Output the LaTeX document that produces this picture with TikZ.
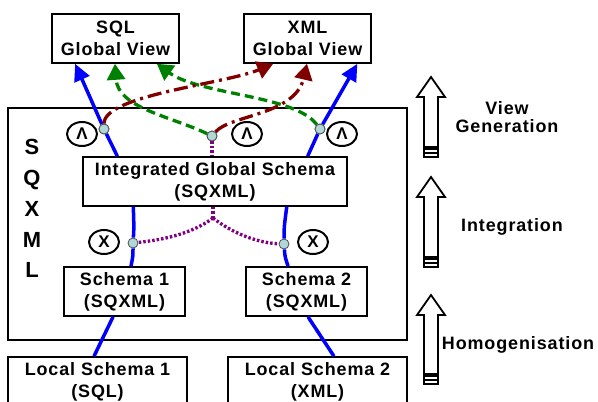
\documentclass[tikz,border=0pt]{standalone}
\usepackage{fontspec}
\setmainfont{Liberation Sans}[LetterSpace=5]
\usetikzlibrary{arrows.meta,shapes.geometric,positioning}
\definecolor{flowblue}{RGB}{0,0,255}
\definecolor{flowgreen}{RGB}{0,128,0}
\definecolor{flowred}{RGB}{128,0,0}
\definecolor{flowpurple}{RGB}{128,0,128}
\definecolor{jointfill}{RGB}{176,216,216}
\newcommand{\boxfont}{\fontsize{18}{22}\selectfont\bfseries}

\begin{document}
\begin{tikzpicture}[x=1bp,y=-1bp,
    box/.style={draw,line width=1.6bp,fill=white,align=center,inner sep=0pt,
      minimum height=49bp,font=\boxfont},
    opnode/.style={draw,ellipse,line width=2bp,minimum width=30bp,
      minimum height=24bp,inner sep=0pt,font=\fontsize{17}{17}\selectfont\bfseries},
    joint/.style={circle,draw=black!70,fill=jointfill,line width=0.8bp,
      minimum size=10bp,inner sep=0pt},
    mapflow/.style={flowblue,line width=3.5bp},
    sqlflow/.style={flowgreen,line width=3.3bp,dash pattern=on 9bp off 5bp},
    xmlflow/.style={flowred,line width=3.3bp,dash pattern=on 14bp off 5bp on 3bp off 5bp},
    mergeflow/.style={flowpurple,line width=3.3bp,dash pattern=on 2.5bp off 2bp},
    phase/.style={align=center,font=\fontsize{18}{18}\selectfont\bfseries}]
  \useasboundingbox (0,0) rectangle (598,401);
  \clip (0,0) rectangle (598,401);

  % SQXML frame
  \node[draw,line width=2bp,minimum width=399bp,minimum height=232bp] (frame) at (207.5,224) {};
  \node[align=center,font=\fontsize{22}{31}\selectfont\bfseries] (sqxmlname) at (32,208.5) {S\\Q\\X\\M\\L};

  % schema boxes
  \node[box,minimum width=127bp] (sqlv) at (115.5,38.5) {SQL\\Global View};
  \node[box,minimum width=127bp] (xmlv) at (307.5,38.5) {XML\\Global View};
  \node[box,minimum width=264bp] (igs) at (215,181.5) {Integrated Global Schema\\(SQXML)};
  \node[box,minimum width=121bp] (s1) at (124.5,291.5) {Schema 1\\(SQXML)};
  \node[box,minimum width=121bp] (s2) at (306.5,291.5) {Schema 2\\(SQXML)};
  \node[box,minimum width=179bp] (ls1) at (97.5,381.5) {Local Schema 1\\(SQL)};
  \node[box,minimum width=179bp] (ls2) at (317.5,381.5) {Local Schema 2\\(XML)};

  % joints and operators
  \node[joint] (j1) at (104,129) {};
  \node[joint] (j2) at (212,136) {};
  \node[joint] (j5) at (320,129) {};
  \node[joint] (j3) at (133,243) {};
  \node[joint] (j4) at (284,244) {};
  \node[opnode] (and1) at (82,134) {Λ};
  \node[opnode] (and2) at (247,134) {Λ};
  \node[opnode] (and3) at (342,134) {Λ};
  \node[opnode] (cross1) at (104,242) {X};
  \node[opnode] (cross2) at (313,242) {X};
  \coordinate (split) at (213,218);

  % blue mappings
  \draw[mapflow] ([xshift=-3.5]ls1.north) -- ([xshift=-11.5]s1.south);
  \draw[mapflow] ([xshift=16.5]ls2.north) -- ([xshift=1.5]s2.south);
  \draw[mapflow] ([xshift=6.5]s1.north) .. controls (133,256) .. (j3) .. controls (134,228) .. ([xshift=-82]igs.south);
  \draw[mapflow] ([xshift=-18.5]s2.north) .. controls (285,257) .. (j4) .. controls (284,228) .. ([xshift=72]igs.south);
  \draw[mapflow,-{Triangle[length=17bp,width=16bp]}] ([xshift=-98]igs.north) -- (j1) -- ([xshift=-40.5]sqlv.south);
  \draw[mapflow,-{Triangle[length=17bp,width=16bp]}] ([xshift=93]igs.north) -- (j5) -- ([xshift=50]xmlv.south);

  % purple merge
  \draw[mergeflow] (j2) -- (j2 |- igs.north);
  \draw[mergeflow] (igs.south -| split) -- (split);
  \draw[mergeflow] (split) .. controls (190,235) and (160,240) .. (j3);
  \draw[mergeflow] (split) .. controls (235,235) and (260,243) .. (j4);

  % view generation
  \draw[sqlflow,-{Triangle[length=16bp,width=18bp]}] (j2) .. controls (170,116) and (118,108) .. ([xshift=-0.5]sqlv.south);
  \draw[sqlflow,-{Triangle[length=16bp,width=18bp]}] (j5) .. controls (295,95) and (200,95) .. ([xshift=41.5]sqlv.south);
  \draw[xmlflow,-{Triangle[length=16bp,width=18bp]}] (j1) .. controls (104,95) and (225,84) .. ([xshift=-34.5]xmlv.south);
  \draw[xmlflow,-{Triangle[length=16bp,width=18bp]}] (j2) .. controls (230,115) and (295,115) .. ([xshift=-0.5]xmlv.south);
  \node[joint] at (j1) {};
  \node[joint] at (j2) {};
  \node[joint] at (j5) {};

  % phase arrows
  \foreach \t/\b in {77/158, 177/268, 295/385} {
    \draw[line width=1.8bp,fill=white] (431,\t) -- (445,\t+20) -- (438,\t+20) -- (438,\b-11)
      -- (424,\b-11) -- (424,\t+20) -- (417,\t+20) -- cycle;
    \draw[line width=1.2bp] (424,\b-11) -- (424,\b) (438,\b-11) -- (438,\b);
    \foreach \s in {0,4,8}
      \fill (424,\b-10+\s) rectangle (438,\b-8+\s);
  }
  \node[phase] (viewgen) at (507,117) {View\\Generation};
  \node[phase] (integ) at (512,227) {Integration};
  \node[phase] (homog) at (518,345) {Homogenisation};
\end{tikzpicture}
\end{document}
